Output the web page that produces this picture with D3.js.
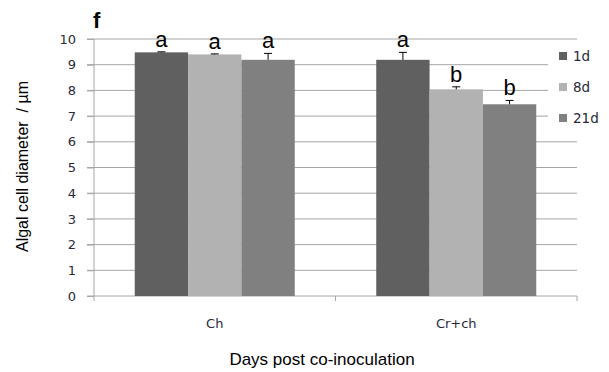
<!DOCTYPE html>
<html>
<head>
<meta charset="utf-8">
<script src="https://cdn.jsdelivr.net/npm/d3@7"></script>
<style>
  body { margin: 0; background: #fff; }
  text { font-family: "Liberation Sans", Arial, sans-serif; }
  .tk { font-family: "DejaVu Sans", Verdana, sans-serif; }
</style>
</head>
<body>
<div class="canvas"></div>
<script>
// data
const groups = ['Ch', 'Cr+ch'];
const series = ['1d', '8d', '21d'];
const colors = ['#606060', '#b2b2b2', '#808080'];
const means = [[9.48, 9.40, 9.19], [9.19, 8.04, 7.46]];
const errs = [[0.02, 0.02, 0.25], [0.29, 0.10, 0.15]];
const letters = [['a', 'a', 'a'], ['a', 'b', 'b']];
const yTicks = [0, 1, 2, 3, 4, 5, 6, 7, 8, 9, 10];

// plot box
const margin = { top: 39, right: 32, bottom: 76, left: 94 };
const width = 609, height = 372;
const graphWidth = width - margin.left - margin.right;
const graphHeight = height - margin.top - margin.bottom;

const svg = d3.select('.canvas')
  .append('svg')
  .attr('width', width)
  .attr('height', height);

const graph = svg.append('g')
  .attr('transform', `translate(${margin.left},${margin.top})`);

const x0 = d3.scaleBand().domain(groups).range([0, graphWidth]);
const x1 = d3.scaleBand().domain(series).range([40.75, x0.bandwidth() - 40.75]);
const y = d3.scaleLinear().domain([0, 10]).range([graphHeight, 0]);

// gridlines
graph.append('g')
  .selectAll('line')
  .data(yTicks.filter(d => d > 0))
  .join('line')
  .attr('x1', -7).attr('x2', graphWidth)
  .attr('y1', d => y(d)).attr('y2', d => y(d))
  .attr('stroke', '#a6a6a6').attr('stroke-width', 1);

// y axis
const yAxis = d3.axisLeft(y).tickValues(yTicks).tickSize(7).tickPadding(11);
const yAxisGroup = graph.append('g').call(yAxis);
yAxisGroup.select('.domain').attr('stroke', '#a6a6a6').attr('d', `M0,${graphHeight + 5}V0`);
yAxisGroup.selectAll('line').attr('stroke', '#a6a6a6');
yAxisGroup.selectAll('text')
  .attr('class', 'tk')
  .attr('font-size', 13)
  .attr('fill', '#2a2a3a');

// x axis
const xAxisGroup = graph.append('g').attr('transform', `translate(0,${graphHeight})`);
xAxisGroup.append('line')
  .attr('x1', -7).attr('x2', graphWidth)
  .attr('stroke', '#a6a6a6');
xAxisGroup.selectAll('.xt')
  .data([x0.bandwidth(), graphWidth])
  .join('line')
  .attr('x1', d => d).attr('x2', d => d)
  .attr('y1', 0).attr('y2', 5)
  .attr('stroke', '#a6a6a6');
xAxisGroup.selectAll('.xl')
  .data(groups)
  .join('text')
  .attr('class', 'tk')
  .attr('x', d => x0(d) + x0.bandwidth() / 2)
  .attr('y', 32)
  .attr('text-anchor', 'middle')
  .attr('font-size', 13)
  .attr('fill', '#2a2a3a')
  .text(d => d);

// bars
const rows = [];
groups.forEach((g, gi) => series.forEach((s, si) => {
  rows.push({ g, s, si, v: means[gi][si], e: errs[gi][si], l: letters[gi][si] });
}));

const bars = graph.selectAll('.bar')
  .data(rows)
  .join('g')
  .attr('transform', d => `translate(${x0(d.g) + x1(d.s)},0)`);

bars.append('rect')
  .attr('y', d => y(d.v))
  .attr('width', x1.bandwidth())
  .attr('height', d => graphHeight - y(d.v))
  .attr('fill', d => colors[d.si]);

// error bars (upper only)
const cx = x1.bandwidth() / 2;
bars.append('line')
  .attr('x1', cx).attr('x2', cx)
  .attr('y1', d => y(d.v)).attr('y2', d => y(d.v + d.e))
  .attr('stroke', '#000');
bars.append('line')
  .attr('x1', cx - 4).attr('x2', cx + 4)
  .attr('y1', d => y(d.v + d.e)).attr('y2', d => y(d.v + d.e))
  .attr('stroke', '#000');

// significance letters
bars.append('text')
  .attr('x', cx)
  .attr('y', d => y(d.v + d.e) - 5)
  .attr('text-anchor', 'middle')
  .attr('font-family', '"Liberation Sans Narrow", "Liberation Sans", sans-serif')
  .attr('font-size', 22)
  .text(d => d.l);

// legend
const legend = svg.append('g').attr('transform', 'translate(548,42)');
legend.append('rect').attr('width', 61).attr('height', 90).attr('fill', '#fff');
const li = legend.selectAll('.li')
  .data(series)
  .join('g')
  .attr('transform', (d, i) => `translate(11,${14 + i * 31})`);
li.append('rect').attr('y', -4).attr('width', 8).attr('height', 8).attr('fill', (d, i) => colors[i]);
li.append('text').attr('class', 'tk').attr('x', 14).attr('y', 5)
  .attr('font-size', 13.5).attr('fill', '#2a2a3a').text(d => d);

// titles
svg.append('text')
  .attr('x', 93).attr('y', 28)
  .attr('font-size', 22).attr('font-weight', 'bold')
  .text('f');

svg.append('text')
  .attr('transform', `translate(28,${margin.top + graphHeight / 2 - 1}) rotate(-90)`)
  .attr('text-anchor', 'middle')
  .attr('font-size', 16)
  .style('white-space', 'pre')
  .text('Algal cell diameter  / µm');

svg.append('text')
  .attr('x', 322).attr('y', 365)
  .attr('text-anchor', 'middle')
  .attr('font-family', '"Open Sans", sans-serif')
  .attr('font-size', 17)
  .text('Days post co-inoculation');
</script>
</body>
</html>
